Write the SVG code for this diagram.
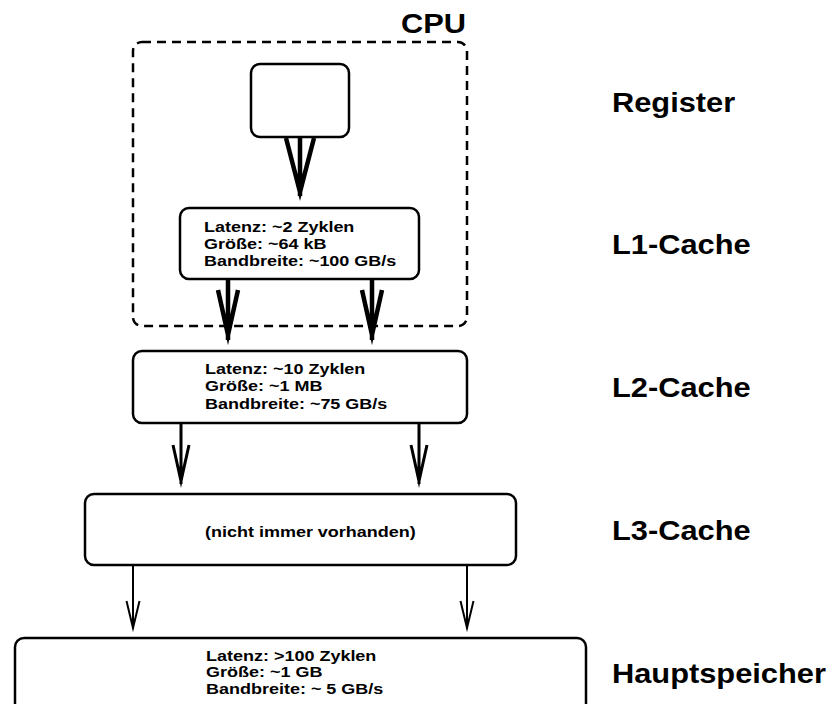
<svg xmlns="http://www.w3.org/2000/svg" width="831" height="704" viewBox="0 0 831 704">
<style>
.box{fill:#fff;stroke:#000;stroke-width:2.5}
.cpu{fill:none;stroke:#000;stroke-width:2.5;stroke-dasharray:9 6}
.t{font-family:"Liberation Sans",Arial,sans-serif;font-weight:bold;font-size:15px;fill:#000}
.lbl{font-family:"Liberation Sans",Arial,sans-serif;font-weight:bold;font-size:28px;fill:#000}
.a1{fill:none;stroke:#000;stroke-width:4.5;stroke-miterlimit:12;stroke-linejoin:miter}
.a2{fill:none;stroke:#000;stroke-width:3;stroke-miterlimit:12;stroke-linejoin:miter}
.a3{fill:none;stroke:#000;stroke-width:2;stroke-miterlimit:12;stroke-linejoin:miter}
</style>
<g id="cpu">
<rect class="cpu" x="133" y="42" width="334" height="284" rx="9"/>
<text class="lbl" transform="translate(401,33) scale(1.1,1)">CPU</text>
</g>
<g id="register">
<rect class="box" x="251" y="64" width="98" height="73" rx="9"/>
</g>
<g id="l1">
<rect class="box" x="180" y="208" width="239" height="71" rx="9"/>
<g transform="translate(204,0) scale(1.2,1)">
<text class="t" x="0" y="232">Latenz: ~2 Zyklen</text>
<text class="t" x="0" y="249">Größe: ~64 kB</text>
<text class="t" x="0" y="266">Bandbreite: ~100 GB/s</text>
</g>
</g>
<g id="l2">
<rect class="box" x="133" y="351" width="334" height="72" rx="9"/>
<g transform="translate(205,0) scale(1.2,1)">
<text class="t" x="0" y="374">Latenz: ~10 Zyklen</text>
<text class="t" x="0" y="391">Größe: ~1 MB</text>
<text class="t" x="0" y="409">Bandbreite: ~75 GB/s</text>
</g>
</g>
<g id="l3">
<rect class="box" x="85" y="494" width="431" height="71" rx="9"/>
<text class="t" transform="translate(205,537) scale(1.2,1)">(nicht immer vorhanden)</text>
</g>
<g id="main">
<rect class="box" x="15" y="638" width="571" height="100" rx="9"/>
<g transform="translate(206,0) scale(1.2,1)">
<text class="t" x="0" y="661">Latenz: &gt;100 Zyklen</text>
<text class="t" x="0" y="677">Größe: ~1 GB</text>
<text class="t" x="0" y="694">Bandbreite: ~ 5 GB/s</text>
</g>
</g>
<g id="labels">
<text class="lbl" transform="translate(612,112) scale(1.1,1)">Register</text>
<text class="lbl" transform="translate(612,254) scale(1.1,1)">L1-Cache</text>
<text class="lbl" transform="translate(612,397) scale(1.1,1)">L2-Cache</text>
<text class="lbl" transform="translate(612,540) scale(1.1,1)">L3-Cache</text>
<text class="lbl" transform="translate(612,683) scale(1.1,1)">Hauptspeicher</text>
</g>
<g id="connectors">
<path class="a1" d="M300,137 V196 M286,138 L300,192 L314,138"/>
<path class="a1" d="M228,279 V340 M218,290 L228,335 L238,290"/>
<path class="a1" d="M372,279 V340 M362,290 L372,335 L382,290"/>
<path class="a2" d="M181,423 V484 M173,445 L181,481 L189,445"/>
<path class="a2" d="M419,423 V484 M411,445 L419,481 L427,445"/>
<path class="a3" d="M133,565 V629 M126.5,601 L133,628 L139.5,601"/>
<path class="a3" d="M467,565 V629 M460.5,601 L467,628 L473.5,601"/>
</g>
</svg>
